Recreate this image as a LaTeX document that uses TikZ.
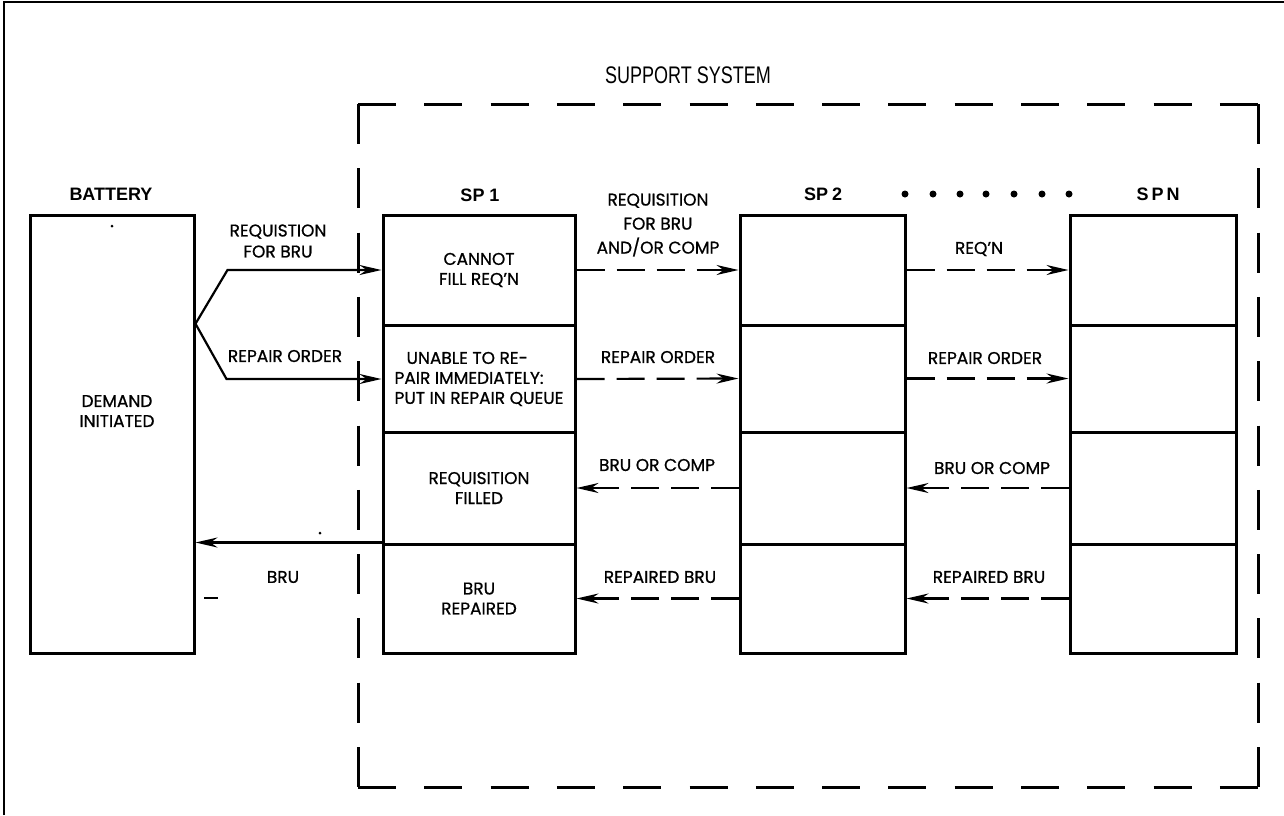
\documentclass[tikz,border=0pt]{standalone}
\usepackage{fontspec}
\setmainfont{Poppins}[FakeBold=0.8]
\newfontfamily\hdfont{Liberation Sans}
\usetikzlibrary{arrows.meta,calc}
\begin{document}
\begin{tikzpicture}[x=1pt,y=-1pt,
  box/.style={draw,line width=3pt,inner sep=0pt},
  lab/.style={font=\fontsize{17}{20}\selectfont, align=center, inner sep=0pt},
  hd/.style={font=\hdfont\bfseries\fontsize{18}{20}\selectfont, inner sep=0pt},
  tipstyle/.style={-{Stealth[length=22pt,width=10pt]}},
  sarr/.style={line width=2.2pt, tipstyle},
  darr/.style={line width=2.2pt, tipstyle, dash pattern=on 28pt off 12pt},
  sideH/.style={line width=3pt, dash pattern=on 38pt off 28.3pt},
  sideV/.style={line width=3pt, dash pattern=on 40pt off 24.3pt},
]
\useasboundingbox (0,0) rectangle (1284,815);

% outer frame
\coordinate (fBL) at (4,815);
\coordinate (fTL) at (4,2);
\coordinate (fTR) at (1284,2);
\draw[line width=1.5pt] (fBL) -- (fTL) -- (fTR);

% support system dashed box
\coordinate (ssNW) at (358,104);
\coordinate (ssNE) at (1258,104);
\coordinate (ssSW) at (358,787);
\coordinate (ssSE) at (1258,787);
\draw[sideH] (ssNW) -- (ssNE);
\draw[sideH] (ssSW) -- (ssSE);
\draw[sideV] (ssNW) -- (ssSW);
\draw[sideV] (ssNE) -- (ssSE);
\node[font=\hdfont\fontsize{24}{26}\selectfont, inner sep=0pt] (sstitle) at (688,75) {\scalebox{0.75}[1]{SUPPORT SYSTEM}};

% battery
\node[box, minimum width=164pt, minimum height=438pt] (bat) at (112,434) {};
\node[lab] (dem) at (117,411) {DEMAND\\INITIATED};
\node[hd] (bath) at (111,194) {BATTERY};

% SP1
\node[box, minimum width=192pt, minimum height=110pt, lab] (s1a) at (479,270) {CANNOT\\FILL REQ'N};
\node[box, minimum width=192pt, minimum height=107pt, lab, align=left] (s1b) at (479,379) {\hspace*{12pt}UNABLE TO RE-\\PAIR IMMEDIATELY:\\PUT IN REPAIR QUEUE};
\node[box, minimum width=192pt, minimum height=112pt, lab] (s1c) at (479,488) {REQUISITION\\FILLED};
\node[box, minimum width=192pt, minimum height=109pt, lab] (s1d) at (479,598.5) {BRU\\REPAIRED};
\node[hd] (s1h) at (480,195) {SP 1};

% SP2
\node[box, minimum width=165pt, minimum height=110pt] (s2a) at (822.5,270) {};
\node[box, minimum width=165pt, minimum height=107pt] (s2b) at (822.5,378.5) {};
\node[box, minimum width=165pt, minimum height=112pt] (s2c) at (822.5,488) {};
\node[box, minimum width=165pt, minimum height=109pt] (s2d) at (822.5,598.5) {};
\node[hd] (s2h) at (823,194) {SP\hspace{4pt}2};

% SPN
\node[box, minimum width=166pt, minimum height=110pt] (sna) at (1153,270) {};
\node[box, minimum width=166pt, minimum height=107pt] (snb) at (1153,378.5) {};
\node[box, minimum width=166pt, minimum height=112pt] (snc) at (1153,488) {};
\node[box, minimum width=166pt, minimum height=109pt] (snd) at (1153,598.5) {};
\node[hd] (snh) at (1158,194) {S\hspace{3pt}P\hspace{3pt}N};

% dots
\foreach \x in {905,933,960,986,1014,1042,1069} \fill (\x,194) circle (3.5);

% battery to SP1
\coordinate (fork) at ($(bat.north east)!0.25!(bat.south east)$);
\coordinate (k1) at ($(fork |- s1a.west)+(32,0)$);
\coordinate (k2) at ($(fork |- s1b.west)+(31,0)$);
\draw[sarr] (fork) -- (k1) -- (s1a.west);
\draw[sarr] (fork) -- (k2) -- (s1b.west);
\node[lab, font=\fontsize{17}{21}\selectfont] (l1) at (278,241) {REQUISTION\\FOR BRU};
\node[lab] (l2) at (285,356) {REPAIR ORDER};

% SP1 to battery
\draw[sarr] (s1d.north west) -- (s1d.north west -| bat.east);
\node[lab] (l3) at (283,577) {BRU};
\coordinate (m1) at (204,598);
\coordinate (m2) at (218,598);
\draw[line width=2pt] (m1) -- (m2);
\fill (112,226) circle (1.5);
\fill (320,533) circle (1.5);

% SP1 <-> SP2
\draw[darr] (s1a.east) -- (s2a.west);
\draw[darr] (s1b.east) -- (s2b.west);
\draw[darr] (s2c.west) -- (s1c.east);
\draw[darr] (s2d.west) -- (s1d.east);
\node[lab, font=\fontsize{17}{24}\selectfont] (l4) at (658,225) {REQUISITION\\FOR BRU\\AND/OR COMP};
\node[lab] (l5) at (658,357) {REPAIR ORDER};
\node[lab] (l6) at (657,465) {BRU OR COMP};
\node[lab] (l7) at (660,577) {REPAIRED BRU};

% SP2 <-> SPN
\draw[darr] (s2a.east) -- (sna.west);
\draw[darr] (s2b.east) -- (snb.west);
\draw[darr] (snc.west) -- (s2c.east);
\draw[darr] (snd.west) -- (s2d.east);
\node[lab] (l8) at (979,249) {REQ'N};
\node[lab] (l9) at (985,358) {REPAIR ORDER};
\node[lab] (l10) at (992,468) {BRU OR COMP};
\node[lab] (l11) at (989,577) {REPAIRED BRU};
\end{tikzpicture}
\end{document}
